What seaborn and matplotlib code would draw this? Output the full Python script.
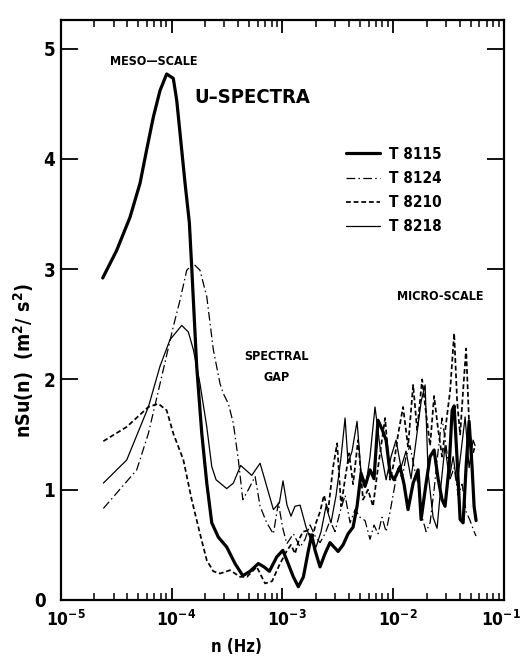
import numpy as np
import pandas as pd
import matplotlib
matplotlib.use("Agg")
import matplotlib.pyplot as plt
import seaborn as sns
from matplotlib.ticker import FixedLocator, NullFormatter, FixedFormatter
from matplotlib.transforms import ScaledTranslation

# ---------------- data (log10 of frequency n [Hz], nSu(n) [m^2/s^2]) ----------------
logn_8115 = [-4.621, -4.495, -4.375, -4.284, -4.225, -4.164, -4.104, -4.044, -3.984, -3.953,
             -3.908, -3.878, -3.839, -3.818, -3.803, -3.773, -3.727, -3.682, -3.637, -3.578,
             -3.502, -3.427, -3.357, -3.292, -3.217, -3.165, -3.117, -3.051, -2.996, -2.960,
             -2.901, -2.856, -2.810, -2.765, -2.735, -2.705, -2.660, -2.615, -2.570, -2.497,
             -2.452, -2.407, -2.362, -2.326, -2.290, -2.254, -2.209, -2.173, -2.137, -2.101,
             -2.064, -2.028, -1.992, -1.938, -1.902, -1.866, -1.820, -1.775, -1.748, -1.703,
             -1.667, -1.631, -1.595, -1.559, -1.532, -1.495, -1.468, -1.450, -1.423, -1.396,
             -1.369, -1.342, -1.315, -1.288, -1.270, -1.252]
val_8115 = [2.92, 3.17, 3.47, 3.78, 4.08, 4.38, 4.62, 4.77, 4.73, 4.53,
            4.08, 3.78, 3.42, 3.02, 2.72, 2.12, 1.51, 1.06, 0.70, 0.57,
            0.48, 0.33, 0.22, 0.26, 0.33, 0.30, 0.26, 0.39, 0.45, 0.36,
            0.21, 0.12, 0.21, 0.45, 0.59, 0.45, 0.30, 0.42, 0.52, 0.44,
            0.50, 0.60, 0.66, 0.85, 1.15, 1.03, 1.18, 1.10, 1.63, 1.55,
            1.45, 1.15, 1.09, 1.21, 1.05, 0.82, 1.06, 1.18, 0.73, 1.06,
            1.30, 1.36, 1.10, 0.91, 0.85, 1.21, 1.72, 1.76, 1.27, 0.73,
            0.70, 1.21, 1.62, 1.20, 0.85, 0.72]

logn_8124 = [-4.615, -4.314, -4.209, -4.104, -3.984, -3.923, -3.863, -3.803, -3.743, -3.682,
             -3.623, -3.562, -3.532, -3.487, -3.442, -3.397, -3.357, -3.307, -3.246, -3.201,
             -3.141, -3.081, -3.036, -2.996, -2.960, -2.900, -2.840, -2.795, -2.750, -2.705,
             -2.660, -2.615, -2.570, -2.525, -2.479, -2.434, -2.389, -2.344, -2.299, -2.254,
             -2.209, -2.173, -2.137, -2.101, -2.064, -2.028, -1.992, -1.956, -1.920, -1.884,
             -1.848, -1.811, -1.775, -1.739, -1.703, -1.667, -1.631, -1.595, -1.559, -1.523,
             -1.486, -1.450, -1.414, -1.378, -1.342, -1.306, -1.270, -1.252]
val_8124 = [0.83, 1.18, 1.51, 1.96, 2.48, 2.72, 2.99, 3.05, 2.99, 2.75,
            2.27, 1.96, 1.87, 1.78, 1.60, 1.27, 0.91, 1.00, 1.12, 0.85,
            0.70, 0.60, 0.88, 0.65, 0.51, 0.60, 0.48, 0.55, 0.68, 0.58,
            0.52, 0.60, 0.72, 0.62, 0.80, 0.95, 0.70, 0.82, 0.75, 0.72,
            0.55, 0.68, 0.60, 0.75, 0.62, 0.80, 1.00, 1.20, 1.10, 1.30,
            1.40, 1.20, 1.05, 0.75, 0.62, 0.70, 1.00, 1.35, 1.65, 1.40,
            1.10, 1.20, 0.95, 1.05, 0.80, 0.72, 0.62, 0.58]

logn_8210 = [-4.615, -4.404, -4.209, -4.119, -4.044, -3.984, -3.893, -3.818, -3.743, -3.682,
             -3.623, -3.562, -3.472, -3.382, -3.319, -3.231, -3.156, -3.093, -3.021, -2.994,
             -2.958, -2.922, -2.886, -2.849, -2.813, -2.768, -2.732, -2.696, -2.660, -2.624,
             -2.588, -2.543, -2.506, -2.470, -2.434, -2.398, -2.362, -2.317, -2.272, -2.227,
             -2.182, -2.137, -2.073, -2.028, -1.992, -1.956, -1.911, -1.866, -1.820, -1.784,
             -1.739, -1.703, -1.667, -1.631, -1.595, -1.559, -1.523, -1.486, -1.450, -1.423,
             -1.396, -1.369, -1.342, -1.315, -1.288, -1.261]
val_8210 = [1.44, 1.57, 1.75, 1.78, 1.72, 1.51, 1.27, 0.91, 0.60, 0.36,
            0.26, 0.24, 0.27, 0.21, 0.21, 0.30, 0.15, 0.17, 0.33, 0.38,
            0.45, 0.50, 0.42, 0.55, 0.62, 0.63, 0.55, 0.70, 0.80, 0.95,
            0.80, 1.20, 1.42, 0.85, 1.10, 1.33, 1.05, 1.45, 0.91, 1.00,
            0.85, 1.20, 1.65, 1.09, 1.25, 1.50, 1.75, 1.39, 1.95, 1.54,
            2.00, 1.69, 1.40, 1.85, 1.55, 1.30, 1.60, 1.90, 2.42, 1.80,
            1.50, 1.90, 2.28, 1.60, 1.30, 1.40]

logn_8218 = [-4.615, -4.404, -4.209, -4.104, -4.014, -3.908, -3.848, -3.803, -3.743, -3.682,
             -3.637, -3.598, -3.562, -3.502, -3.442, -3.376, -3.276, -3.201, -3.141, -3.081,
             -3.027, -2.994, -2.958, -2.922, -2.886, -2.840, -2.786, -2.741, -2.696, -2.651,
             -2.606, -2.561, -2.515, -2.470, -2.434, -2.407, -2.371, -2.326, -2.290, -2.245,
             -2.209, -2.164, -2.119, -2.064, -2.019, -1.974, -1.929, -1.884, -1.839, -1.793,
             -1.748, -1.712, -1.685, -1.640, -1.604, -1.568, -1.532, -1.495, -1.459, -1.423,
             -1.387, -1.351, -1.315, -1.279, -1.261]
val_8218 = [1.06, 1.27, 1.75, 2.12, 2.36, 2.49, 2.43, 2.27, 1.96, 1.57,
            1.21, 1.09, 1.06, 1.01, 1.06, 1.22, 1.13, 1.24, 1.03, 0.82,
            0.88, 1.08, 0.86, 0.76, 0.85, 0.86, 0.66, 0.54, 0.48, 0.62,
            0.85, 0.70, 0.95, 1.30, 1.65, 1.24, 1.35, 1.62, 1.15, 1.05,
            1.30, 1.75, 1.39, 1.09, 1.30, 1.45, 1.20, 1.35, 1.10, 1.45,
            1.80, 1.95, 1.15, 0.75, 0.65, 1.05, 1.40, 1.10, 1.30, 1.05,
            1.35, 1.66, 1.20, 1.45, 1.40]

runs = ["T 8115", "T 8124", "T 8210", "T 8218"]
x_ticks_exp = [-5, -4, -3, -2, -1]
y_ticks = [0, 1, 2, 3, 4, 5]

# ---------------- styling ----------------
sns.set_theme(style="ticks")
plt.rcParams['font.family'] = ['DejaVu Sans']
plt.rcParams['font.weight'] = 'bold'
plt.rcParams['font.stretch'] = 'condensed'
for k in ['text.color', 'axes.labelcolor', 'xtick.color', 'ytick.color', 'axes.edgecolor']:
    plt.rcParams[k] = 'black'
plt.rcParams['mathtext.fontset'] = 'custom'
plt.rcParams['mathtext.rm'] = 'DejaVu Sans:weight=bold:stretch=condensed'
plt.rcParams['mathtext.it'] = 'DejaVu Sans:weight=bold:stretch=condensed'
plt.rcParams['mathtext.bf'] = 'DejaVu Sans:weight=bold:stretch=condensed'
plt.rcParams['mathtext.default'] = 'rm'

frames = []
for name, lg, v in zip(runs, [logn_8115, logn_8124, logn_8210, logn_8218],
                       [val_8115, val_8124, val_8210, val_8218]):
    frames.append(pd.DataFrame({"n": 10.0 ** np.array(lg), "S": v, "run": name}))
df = pd.concat(frames, ignore_index=True)

fig = plt.figure(figsize=(5.26, 6.57), dpi=100)
ax = fig.add_axes([0.1154, 0.0868, 0.8428, 0.8828])
ax.set_xscale("log")

dashes = {"T 8115": "", "T 8124": (7.0, 2.6, 1.2, 2.6), "T 8210": (2.8, 1.6), "T 8218": ""}
sizes = {"T 8115": 2.3, "T 8124": 0.9, "T 8210": 1.25, "T 8218": 0.9}
sns.lineplot(data=df, x="n", y="S", hue="run", style="run", size="run",
             palette=["black"] * 4, dashes=dashes, sizes=sizes, sort=False,
             estimator=None, legend=False, ax=ax)
for ln in ax.get_lines():
    ln.set_solid_joinstyle("round")
    ln.set_dash_joinstyle("round")

ax.set_xlim(1e-5, 1e-1)
ax.set_ylim(0, 5.26)

# ticks
ax.xaxis.set_major_locator(FixedLocator([10.0 ** e for e in x_ticks_exp]))
ax.xaxis.set_major_formatter(FixedFormatter([r"$10^{%d}$" % e for e in x_ticks_exp]))
minors = [m * 10.0 ** e for e in x_ticks_exp[:-1] for m in range(2, 10)]
ax.xaxis.set_minor_locator(FixedLocator(minors))
ax.xaxis.set_minor_formatter(NullFormatter())
ax.set_yticks(y_ticks)
ax.set_yticklabels([str(t) for t in y_ticks])

ax.tick_params(axis="x", which="major", direction="in", length=9, width=1.3,
               top=True, bottom=True, labelsize=12.5, pad=7)
ax.tick_params(axis="x", which="minor", direction="in", length=5, width=1.1,
               top=True, bottom=True)
ax.tick_params(axis="y", which="major", direction="in", length=12, width=1.3,
               left=True, right=True, labelsize=13.5, pad=4)
for s in ax.spines.values():
    s.set_linewidth(1.6)
    s.set_color("black")

# shift decade labels so that the "10" sits near its tick (last one kept inside the figure)
xlabs = ax.get_xticklabels()
for lab in xlabs[:-1]:
    lab.set_transform(lab.get_transform() + ScaledTranslation(3.5 / 72, 0, fig.dpi_scale_trans))
xlabs[-1].set_transform(xlabs[-1].get_transform() + ScaledTranslation(-2 / 72, 0, fig.dpi_scale_trans))
ylabs = ax.get_yticklabels()
ylabs[0].set_transform(ylabs[0].get_transform() + ScaledTranslation(-7 / 72, 0, fig.dpi_scale_trans))

ax.set_xlabel("n (Hz)", fontsize=12, fontweight="bold")
ax.set_ylabel(r"nSu(n)  (m$^2$/ s$^2$)", fontsize=14, fontweight="bold")
ax.yaxis.set_label_coords(-0.056, 0.412)
ax.xaxis.set_label_coords(0.397, -0.065)

# annotations
ax.text(0.2105, 0.9276, "MESO\u2014SCALE", transform=ax.transAxes, ha="center", va="center",
        fontsize=9, fontweight="bold")
ax.text(0.4315, 0.8655, "U\u2013SPECTRA", transform=ax.transAxes, ha="center", va="center",
        fontsize=14.5, fontweight="bold")
ax.text(0.486, 0.419, "SPECTRAL", transform=ax.transAxes, ha="center", va="center",
        fontsize=9, fontweight="bold")
ax.text(0.486, 0.383, "GAP", transform=ax.transAxes, ha="center", va="center",
        fontsize=9, fontweight="bold")
ax.text(0.8556, 0.5224, "MICRO-SCALE", transform=ax.transAxes, ha="center", va="center",
        fontsize=9, fontweight="bold")

handles = ax.get_lines()[:4]
leg = ax.legend(handles, runs, frameon=False, loc="upper left",
                bbox_to_anchor=(0.63, 0.792), fontsize=11, handlelength=2.2,
                handletextpad=0.6, labelspacing=0.6, borderaxespad=0)

fig.savefig("out.png", dpi=100)
